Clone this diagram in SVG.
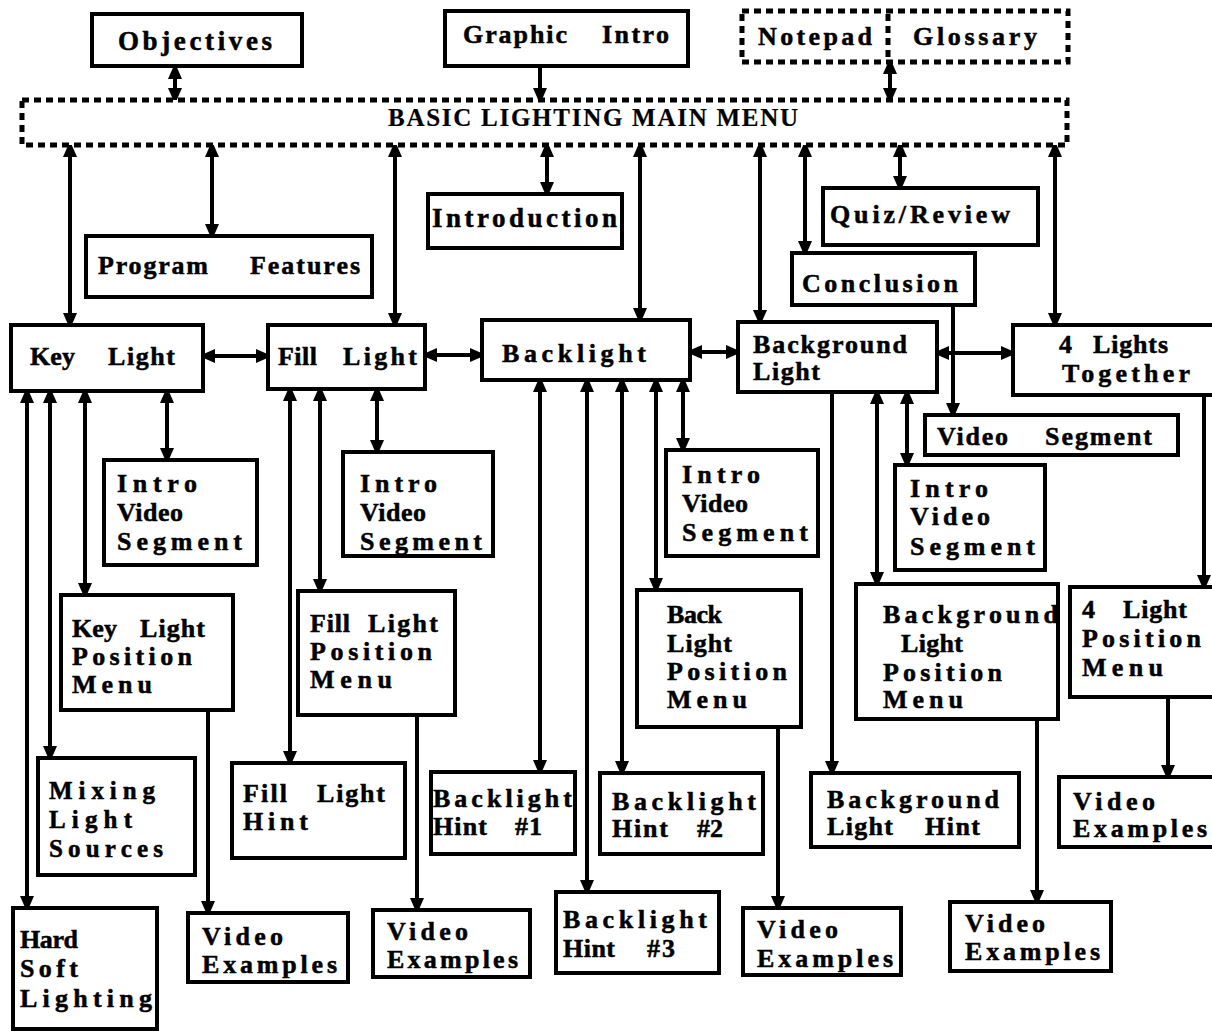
<svg xmlns="http://www.w3.org/2000/svg" width="1212" height="1032" viewBox="0 0 1212 1032">
<style>
.b{fill:#fff;stroke:#000;stroke-width:4}
.d{fill:#fff;stroke:#000;stroke-width:5;stroke-dasharray:7 5}
.t{font-family:"Liberation Serif","Times New Roman",serif;font-weight:bold;font-size:26px;fill:#000;stroke:#000;stroke-width:0.5}
.c{fill:none;stroke:#000;stroke-width:4}
.two{marker-start:url(#ah);marker-end:url(#ah)}
.one{marker-end:url(#ah)}
</style>
<defs>
<marker id="ah" viewBox="0 0 16 14" refX="12" refY="7" markerWidth="16" markerHeight="14" markerUnits="userSpaceOnUse" orient="auto-start-reverse">
<path d="M0,0 L16,7 L0,14 z" fill="#000"/>
</marker>
</defs>
<rect width="1212" height="1032" fill="#fff"/>

<g id="connectors">
<path class="c two" d="M175,67 V100"/>
<path class="c one" d="M540,67 V100"/>
<path class="c two" d="M890,62 V100"/>
<path class="c two" d="M70,145 V325"/>
<path class="c two" d="M212,145 V236"/>
<path class="c two" d="M395,145 V325"/>
<path class="c two" d="M547,145 V194"/>
<path class="c two" d="M640,145 V320"/>
<path class="c two" d="M760,145 V322"/>
<path class="c two" d="M805,145 V253"/>
<path class="c two" d="M900,145 V188"/>
<path class="c two" d="M1055,145 V325"/>
<path class="c two" d="M203,356 H268"/>
<path class="c two" d="M425,355 H482"/>
<path class="c two" d="M690,352 H738"/>
<path class="c two" d="M937,353 H1013"/>
<path class="c one" d="M953,305 V415"/>
<path class="c two" d="M27,391 V908"/>
<path class="c two" d="M50,391 V758"/>
<path class="c two" d="M85,391 V595"/>
<path class="c two" d="M167,391 V460"/>
<path class="c two" d="M290,389 V763"/>
<path class="c two" d="M320,389 V591"/>
<path class="c two" d="M377,389 V452"/>
<path class="c two" d="M540,380 V772"/>
<path class="c two" d="M587,380 V892"/>
<path class="c two" d="M622,380 V773"/>
<path class="c two" d="M656,380 V590"/>
<path class="c two" d="M683,380 V450"/>
<path class="c one" d="M832,392 V773"/>
<path class="c two" d="M877,392 V584"/>
<path class="c two" d="M907,392 V465"/>
<path class="c one" d="M1204,395 V587"/>
<path class="c one" d="M208,710 V913"/>
<path class="c one" d="M417,715 V910"/>
<path class="c one" d="M778,727 V908"/>
<path class="c one" d="M1037,719 V902"/>
<path class="c one" d="M1168,697 V777"/>
</g>

<g id="objectives"><rect class="b" x="92" y="14" width="210" height="52"/>
<text class="t" style="font-size:27px"><tspan x="118" y="50" textLength="154" lengthAdjust="spacing">Objectives</tspan></text></g>

<g id="graphic-intro"><rect class="b" x="445" y="11" width="243" height="55"/>
<text class="t"><tspan x="463" y="43" textLength="104" lengthAdjust="spacing">Graphic</tspan><tspan x="602" y="43" textLength="67" lengthAdjust="spacing">Intro</tspan></text></g>

<g id="notepad-glossary"><rect class="d" x="742" y="11" width="326" height="51"/>
<line x1="888" y1="14" x2="888" y2="60" stroke="#000" stroke-width="5" stroke-dasharray="7 5"/>
<text class="t"><tspan x="758" y="45" textLength="114" lengthAdjust="spacing">Notepad</tspan><tspan x="913" y="45" textLength="124" lengthAdjust="spacing">Glossary</tspan></text></g>

<g id="main-menu"><rect class="d" x="22" y="100" width="1045" height="45"/>
<text class="t" style="font-size:25px;stroke-width:0.2"><tspan x="388" y="126" textLength="410" lengthAdjust="spacing">BASIC LIGHTING MAIN MENU</tspan></text></g>

<g id="program-features"><rect class="b" x="86" y="236" width="286" height="61"/>
<text class="t"><tspan x="98" y="274" textLength="110" lengthAdjust="spacing">Program</tspan><tspan x="250" y="274" textLength="110" lengthAdjust="spacing">Features</tspan></text></g>

<g id="introduction"><rect class="b" x="428" y="194" width="194" height="54"/>
<text class="t" style="font-size:27px"><tspan x="432" y="227" textLength="185" lengthAdjust="spacing">Introduction</tspan></text></g>

<g id="quiz-review"><rect class="b" x="823" y="188" width="215" height="57"/>
<text class="t"><tspan x="830" y="223" textLength="180" lengthAdjust="spacing">Quiz/Review</tspan></text></g>

<g id="conclusion"><rect class="b" x="792" y="253" width="183" height="52"/>
<text class="t"><tspan x="802" y="292" textLength="156" lengthAdjust="spacing">Conclusion</tspan></text></g>

<g id="key-light"><rect class="b" x="11" y="325" width="192" height="66"/>
<text class="t"><tspan x="30" y="365" textLength="45" lengthAdjust="spacing">Key</tspan><tspan x="108" y="365" textLength="67" lengthAdjust="spacing">Light</tspan></text></g>

<g id="fill-light"><rect class="b" x="268" y="325" width="157" height="64"/>
<text class="t"><tspan x="278" y="365" textLength="39" lengthAdjust="spacing">Fill</tspan><tspan x="343" y="365" textLength="74" lengthAdjust="spacing">Light</tspan></text></g>

<g id="backlight"><rect class="b" x="482" y="320" width="208" height="60"/>
<text class="t"><tspan x="502" y="362" textLength="144" lengthAdjust="spacing">Backlight</tspan></text></g>

<g id="background-light"><rect class="b" x="738" y="322" width="199" height="70"/>
<text class="t"><tspan x="753" y="353" textLength="154" lengthAdjust="spacing">Background</tspan><tspan x="753" y="380" textLength="67" lengthAdjust="spacing">Light</tspan></text></g>

<g id="four-lights-together"><rect class="b" x="1013" y="325" width="205" height="70"/>
<text class="t"><tspan x="1059" y="353">4</tspan><tspan x="1093" y="353" textLength="75" lengthAdjust="spacing">Lights</tspan><tspan x="1062" y="382" textLength="128" lengthAdjust="spacing">Together</tspan></text></g>

<g id="video-segment"><rect class="b" x="925" y="415" width="253" height="40"/>
<text class="t"><tspan x="937" y="445" textLength="71" lengthAdjust="spacing">Video</tspan><tspan x="1045" y="445" textLength="107" lengthAdjust="spacing">Segment</tspan></text></g>

<g id="key-intro-video"><rect class="b" x="104" y="460" width="153" height="105"/>
<text class="t"><tspan x="117" y="492" textLength="80" lengthAdjust="spacing">Intro</tspan><tspan x="117" y="521" textLength="66" lengthAdjust="spacing">Video</tspan><tspan x="117" y="550" textLength="125" lengthAdjust="spacing">Segment</tspan></text></g>

<g id="fill-intro-video"><rect class="b" x="343" y="452" width="150" height="104"/>
<text class="t"><tspan x="360" y="492" textLength="77" lengthAdjust="spacing">Intro</tspan><tspan x="360" y="521" textLength="66" lengthAdjust="spacing">Video</tspan><tspan x="360" y="550" textLength="122" lengthAdjust="spacing">Segment</tspan></text></g>

<g id="back-intro-video"><rect class="b" x="666" y="450" width="152" height="106"/>
<text class="t"><tspan x="682" y="483" textLength="78" lengthAdjust="spacing">Intro</tspan><tspan x="682" y="512" textLength="66" lengthAdjust="spacing">Video</tspan><tspan x="682" y="541" textLength="126" lengthAdjust="spacing">Segment</tspan></text></g>

<g id="bg-intro-video"><rect class="b" x="895" y="465" width="150" height="105"/>
<text class="t"><tspan x="910" y="497" textLength="78" lengthAdjust="spacing">Intro</tspan><tspan x="910" y="525" textLength="80" lengthAdjust="spacing">Video</tspan><tspan x="910" y="555" textLength="125" lengthAdjust="spacing">Segment</tspan></text></g>

<g id="key-light-position-menu"><rect class="b" x="61" y="595" width="172" height="115"/>
<text class="t"><tspan x="72" y="637" textLength="45" lengthAdjust="spacing">Key</tspan><tspan x="140" y="637" textLength="65" lengthAdjust="spacing">Light</tspan><tspan x="72" y="665" textLength="120" lengthAdjust="spacing">Position</tspan><tspan x="72" y="693" textLength="80" lengthAdjust="spacing">Menu</tspan></text></g>

<g id="fill-light-position-menu"><rect class="b" x="298" y="591" width="157" height="124"/>
<text class="t"><tspan x="310" y="632" textLength="40" lengthAdjust="spacing">Fill</tspan><tspan x="368" y="632" textLength="70" lengthAdjust="spacing">Light</tspan><tspan x="310" y="660" textLength="122" lengthAdjust="spacing">Position</tspan><tspan x="310" y="688" textLength="82" lengthAdjust="spacing">Menu</tspan></text></g>

<g id="back-light-position-menu"><rect class="b" x="637" y="590" width="164" height="137"/>
<text class="t"><tspan x="667" y="623" textLength="55" lengthAdjust="spacing">Back</tspan><tspan x="667" y="652" textLength="65" lengthAdjust="spacing">Light</tspan><tspan x="667" y="680" textLength="120" lengthAdjust="spacing">Position</tspan><tspan x="667" y="708" textLength="80" lengthAdjust="spacing">Menu</tspan></text></g>

<g id="background-light-position-menu"><rect class="b" x="856" y="584" width="202" height="135"/>
<text class="t"><tspan x="883" y="623" textLength="175" lengthAdjust="spacing">Background</tspan><tspan x="901" y="652" textLength="62" lengthAdjust="spacing">Light</tspan><tspan x="883" y="681" textLength="119" lengthAdjust="spacing">Position</tspan><tspan x="883" y="708" textLength="80" lengthAdjust="spacing">Menu</tspan></text></g>

<g id="four-light-position-menu"><rect class="b" x="1070" y="587" width="150" height="110"/>
<text class="t"><tspan x="1082" y="618">4</tspan><tspan x="1123" y="618" textLength="64" lengthAdjust="spacing">Light</tspan><tspan x="1082" y="647" textLength="119" lengthAdjust="spacing">Position</tspan><tspan x="1082" y="676" textLength="81" lengthAdjust="spacing">Menu</tspan></text></g>

<g id="mixing-light-sources"><rect class="b" x="38" y="758" width="157" height="117"/>
<text class="t" style="font-size:25px"><tspan x="49" y="799" textLength="106" lengthAdjust="spacing">Mixing</tspan><tspan x="49" y="828" textLength="83" lengthAdjust="spacing">Light</tspan><tspan x="49" y="857" textLength="114" lengthAdjust="spacing">Sources</tspan></text></g>

<g id="fill-light-hint"><rect class="b" x="232" y="763" width="173" height="95"/>
<text class="t"><tspan x="243" y="802" textLength="44" lengthAdjust="spacing">Fill</tspan><tspan x="317" y="802" textLength="68" lengthAdjust="spacing">Light</tspan><tspan x="243" y="830" textLength="65" lengthAdjust="spacing">Hint</tspan></text></g>

<g id="backlight-hint-1"><rect class="b" x="431" y="772" width="144" height="82"/>
<text class="t"><tspan x="433" y="807" textLength="139" lengthAdjust="spacing">Backlight</tspan><tspan x="433" y="835" textLength="54" lengthAdjust="spacing">Hint</tspan><tspan x="515" y="835" textLength="27" lengthAdjust="spacing">#1</tspan></text></g>

<g id="backlight-hint-2"><rect class="b" x="600" y="773" width="163" height="81"/>
<text class="t"><tspan x="612" y="810" textLength="144" lengthAdjust="spacing">Backlight</tspan><tspan x="612" y="837" textLength="56" lengthAdjust="spacing">Hint</tspan><tspan x="697" y="837" textLength="26" lengthAdjust="spacing">#2</tspan></text></g>

<g id="backlight-hint-3"><rect class="b" x="556" y="892" width="163" height="81"/>
<text class="t"><tspan x="563" y="928" textLength="144" lengthAdjust="spacing">Backlight</tspan><tspan x="563" y="957" textLength="52" lengthAdjust="spacing">Hint</tspan><tspan x="647" y="957" textLength="28" lengthAdjust="spacing">#3</tspan></text></g>

<g id="background-light-hint"><rect class="b" x="811" y="773" width="208" height="74"/>
<text class="t"><tspan x="827" y="808" textLength="172" lengthAdjust="spacing">Background</tspan><tspan x="827" y="835" textLength="66" lengthAdjust="spacing">Light</tspan><tspan x="925" y="835" textLength="55" lengthAdjust="spacing">Hint</tspan></text></g>

<g id="hard-soft-lighting"><rect class="b" x="13" y="908" width="144" height="121"/>
<text class="t"><tspan x="20" y="948" textLength="58" lengthAdjust="spacing">Hard</tspan><tspan x="20" y="977" textLength="58" lengthAdjust="spacing">Soft</tspan><tspan x="20" y="1007" textLength="132" lengthAdjust="spacing">Lighting</tspan></text></g>

<g id="video-examples-1"><rect class="b" x="188" y="913" width="160" height="69"/>
<text class="t"><tspan x="202" y="945" textLength="81" lengthAdjust="spacing">Video</tspan><tspan x="202" y="973" textLength="135" lengthAdjust="spacing">Examples</tspan></text></g>

<g id="video-examples-2"><rect class="b" x="373" y="910" width="157" height="67"/>
<text class="t"><tspan x="387" y="940" textLength="81" lengthAdjust="spacing">Video</tspan><tspan x="387" y="968" textLength="131" lengthAdjust="spacing">Examples</tspan></text></g>

<g id="video-examples-3"><rect class="b" x="743" y="908" width="158" height="67"/>
<text class="t"><tspan x="757" y="938" textLength="81" lengthAdjust="spacing">Video</tspan><tspan x="757" y="967" textLength="136" lengthAdjust="spacing">Examples</tspan></text></g>

<g id="video-examples-4"><rect class="b" x="950" y="902" width="161" height="69"/>
<text class="t"><tspan x="965" y="932" textLength="80" lengthAdjust="spacing">Video</tspan><tspan x="965" y="960" textLength="135" lengthAdjust="spacing">Examples</tspan></text></g>

<g id="video-examples-5"><rect class="b" x="1059" y="777" width="160" height="70"/>
<text class="t"><tspan x="1073" y="810" textLength="82" lengthAdjust="spacing">Video</tspan><tspan x="1073" y="837" textLength="134" lengthAdjust="spacing">Examples</tspan></text></g>
</svg>
